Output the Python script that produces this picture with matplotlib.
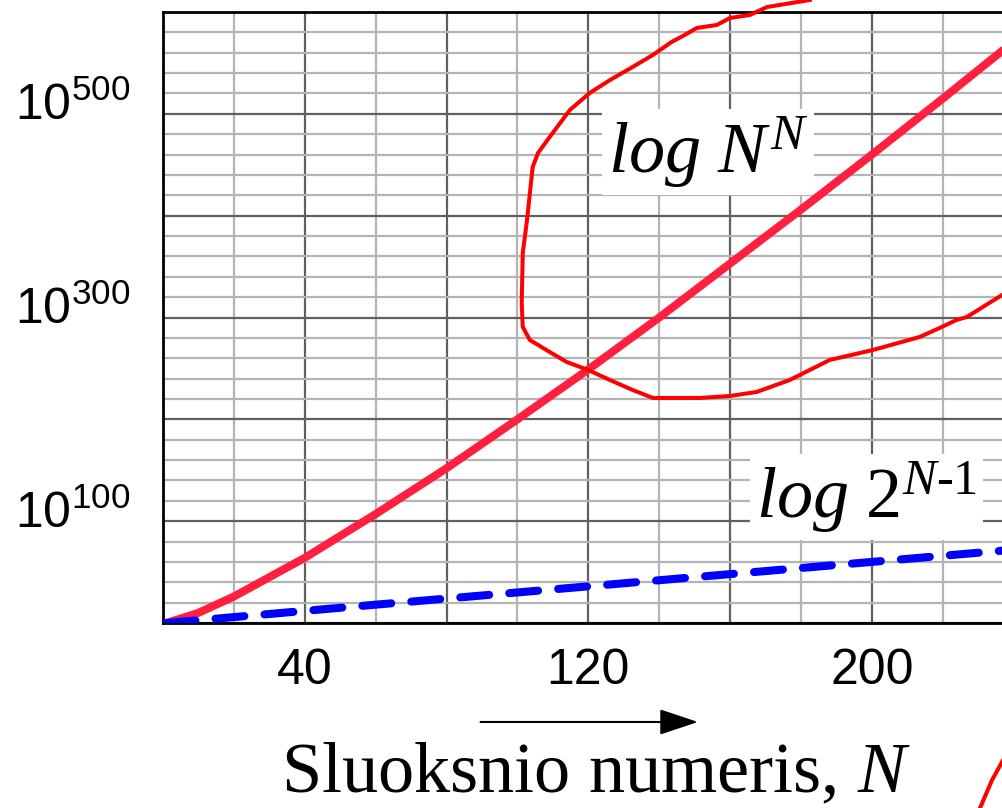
import numpy as np
import matplotlib
matplotlib.use('Agg')
import matplotlib.pyplot as plt
from matplotlib.ticker import FixedLocator, FixedFormatter
from matplotlib.transforms import ScaledTranslation

plt.rcParams['font.family'] = ['Liberation Sans', 'DejaVu Sans']
plt.rcParams['mathtext.fontset'] = 'custom'
plt.rcParams['mathtext.rm'] = 'Liberation Serif'
plt.rcParams['mathtext.it'] = 'Liberation Serif:italic'
plt.rcParams['mathtext.bf'] = 'Liberation Serif:bold'

# values (y is the exponent, log10)
n_red = [1, 10, 20, 40, 60, 80, 100, 120, 140, 160, 180, 200, 220, 240]
log_nn = [0, 10, 26, 64, 107, 152, 200, 249, 300, 353, 406, 460, 515, 571]
n_blue = [1, 60, 120, 180, 240]
log_2n = [0, 18, 36, 54, 72]

# hand drawn loop around the curve
loop_n = [182.5, 170.4, 165.6, 159.9, 156.3, 150.6, 146.7, 143.5, 138.2, 132.5,
          126.1, 120.4, 114.8, 109.1, 105.8, 104.3, 102.7, 101.5, 101.2, 101.5,
          103.5, 109.1, 113.9, 119.9, 126.1, 132.5, 138.2, 151.5, 159.9, 167.5,
          176.8, 188.1, 200.3, 213.5, 219.1, 223.9, 226.8, 236.7, 241.8]
loop_y = [611.8, 604.9, 597.1, 594.1, 587.3, 584.3, 576.5, 570.6, 557.8, 546.0,
          533.2, 520.5, 503.8, 477.3, 461.6, 447.8, 395.8, 363.4, 314.2, 290.7,
          277.9, 266.1, 256.3, 248.5, 238.6, 228.8, 221.0, 221.0, 222.9, 226.9,
          238.6, 258.3, 268.1, 280.9, 289.7, 297.6, 300.5, 322.1, 331.9]
stroke_n = [230.5, 233.9, 236.7, 238.9]
stroke_y = [-181.7, -154.2, -136.5, -122.8]

x_ticks = [0, 40, 80, 120, 160, 200, 240]
x_labels = ['', '40', '', '120', '', '200', '']
y_ticks = [0, 100, 200, 300, 400, 500, 600]
y_labels = ['', r'$\mathregular{10^{100}}$', '', r'$\mathregular{10^{300}}$', '',
            r'$\mathregular{10^{500}}$', '']

fig = plt.figure(figsize=(10.02, 8.08), dpi=100)
ax = fig.add_axes([163/1002, 1 - 623/808, 1 - 163/1002, (623 - 12)/808])

ax.plot(n_red, log_nn, color='#ff2040', lw=5.8, solid_capstyle='round', zorder=4)
ax.plot(n_blue, log_2n, color='#0000ff', lw=5.8, ls=(0, (3.6, 2.5)),
        dash_capstyle='round', zorder=4)
ax.plot(loop_n, loop_y, color='#ff0000', lw=2.9, clip_on=False, zorder=5)
ax.plot(stroke_n, stroke_y, color='#ff0000', lw=2.9, clip_on=False, zorder=5)

ax.set_xlim(0, 236.7)
ax.set_ylim(0, 600)
ax.xaxis.set_major_locator(FixedLocator(x_ticks))
ax.xaxis.set_major_formatter(FixedFormatter(x_labels))
ax.xaxis.set_minor_locator(FixedLocator(np.arange(0, 241, 20)))
ax.yaxis.set_major_locator(FixedLocator(y_ticks))
ax.yaxis.set_major_formatter(FixedFormatter(y_labels))
ax.yaxis.set_minor_locator(FixedLocator(np.arange(0, 601, 20)))
ax.grid(which='major', color='#606060', lw=1.6)
ax.grid(which='minor', color='#b4b4b4', lw=1.6)
ax.set_axisbelow(True)
ax.tick_params(which='both', length=0, labelsize=36)
ax.tick_params(axis='x', pad=18)
ax.tick_params(axis='y', pad=24)

# y labels sit a little above their gridlines in the original
shift = ScaledTranslation(0, 9/72, fig.dpi_scale_trans)
for lab in ax.get_yticklabels():
    lab.set_transform(lab.get_transform() + shift)

for side in ['left', 'top', 'bottom']:
    ax.spines[side].set_color('black')
    ax.spines[side].set_linewidth(2)
ax.spines['right'].set_visible(False)

box = dict(facecolor='white', edgecolor='none', boxstyle='square,pad=0.08')
ax.text(153.7, 462.5, r'$log\ N^N$', fontsize=52, ha='center', va='center',
        bbox=box, zorder=3)
ax.text(198.4, 123.7, r'$log\ 2^{N\text{-}1}$', fontsize=52, ha='center',
        va='center', bbox=box, zorder=3)

ax.annotate('', xy=(151.7, -97.2), xytext=(88.8, -97.2), annotation_clip=False,
            arrowprops=dict(arrowstyle='-|>,head_length=1.2,head_width=0.4',
                            color='black', lw=1.5, mutation_scale=20))

ax.set_xlabel(r'Sluoksnio numeris, $N$', fontsize=52, family='Liberation Serif')
ax.xaxis.set_label_coords(0.516, -0.196)

fig.savefig('out.png', dpi=100)
